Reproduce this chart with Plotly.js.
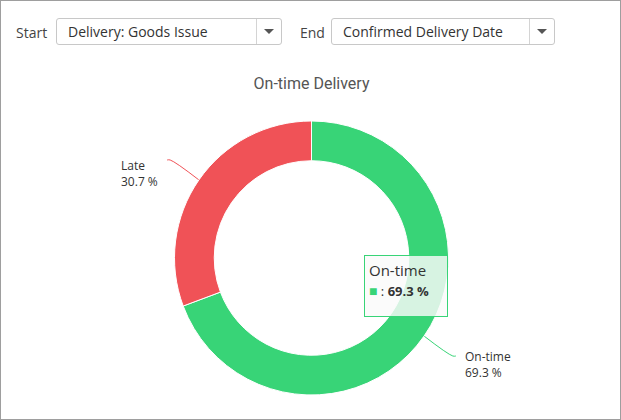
<!DOCTYPE html>
<html>
<head>
<meta charset="utf-8">
<script src="https://cdn.plot.ly/plotly-3.0.1.min.js"></script>
<style>
  html, body { margin: 0; padding: 0; background: #fff; }
  #wrap { position: relative; width: 621px; height: 420px; box-sizing: border-box; border: 1px solid #9e9e9e; overflow: hidden; font-family: "Open Sans", sans-serif; }
  #chart { position: absolute; left: 0; top: 0; width: 621px; height: 420px; }
  .lbl { position: absolute; top: 22px; font-size: 14px; color: #444; line-height: 20px; z-index: 2; }
  .sel { position: absolute; top: 17px; height: 27px; box-sizing: border-box; border: 1px solid #c8c8c8; border-radius: 3px; background: #fff; font-size: 14px; color: #333; line-height: 25px; padding-left: 11px; z-index: 2; }
  .sel .arr { position: absolute; right: 0; top: 0; width: 24px; height: 25px; border-left: 1px solid #d4d4d4; }
  .sel .arr:after { content: ""; position: absolute; left: 7px; top: 10px; border-left: 5px solid transparent; border-right: 5px solid transparent; border-top: 5px solid #555; }
</style>
</head>
<body>
<div id="wrap">
  <div id="chart"></div>
  <div class="lbl" style="left:15px;">Start</div>
  <div class="sel" style="left:55px; width:226px;">Delivery: Goods Issue<div class="arr"></div></div>
  <div class="lbl" style="left:299px;">End</div>
  <div class="sel" style="left:330px; width:224px;">Confirmed Delivery Date<div class="arr"></div></div>
</div>
<script>
// Data
const categories = ["On-time", "Late"];
const shares = [69.3, 30.7];
const colors = ["#38D477", "#F05257"];
const chartTitle = "On-time Delivery";

// Geometry (pixels in the 621x420 page)
const W = 621, H = 420;
const cx = 310.5, cy = 257, R = 137, holeFrac = 0.71;
const leadLen = 35;

const total = shares.reduce((a, b) => a + b, 0);

// leader lines from slice mid-angles (clockwise from 12 o'clock)
const lineTraces = [];
const annotations = [];
let cum = 0;
shares.forEach((v, i) => {
  const mid = (cum + v / 2) / total * 2 * Math.PI;
  cum += v;
  const dx = Math.sin(mid), dy = -Math.cos(mid);
  const x0 = cx + R * dx, y0 = cy + R * dy;
  const x1 = cx + (R + leadLen) * dx, y1 = cy + (R + leadLen) * dy;
  const side = dx >= 0 ? 1 : -1;
  const x2 = x1 + side * 3;
  lineTraces.push({
    type: "scatter", mode: "lines", xaxis: "x", yaxis: "y",
    x: [x0, x1, x2], y: [y0, y1, y1],
    line: { color: colors[i], width: 1, shape: "spline" },
    hoverinfo: "skip", showlegend: false
  });
  annotations.push({
    xref: "x", yref: "y", x: x2 + side * 7, y: y1 - (side > 0 ? 10 : 5),
    xanchor: side > 0 ? "left" : "right", yanchor: "top",
    align: "left", showarrow: false,
    text: categories[i] + "<br>" + shares[i].toFixed(1) + " %",
    font: { family: "Open Sans, sans-serif", size: 12, color: "#333" }
  });
});

// tooltip-like box for the first category
annotations.push({
  xref: "x", yref: "y", x: 363, y: 254, xanchor: "left", yanchor: "top",
  align: "left", showarrow: false, valign: "top",
  text: "<span style='font-size:15px;color:#333'>" + categories[0] + "</span><br>" +
        "<span style='color:" + colors[0] + ";font-size:14px'>■</span>" +
        "<span style='font-size:13px;color:#333'> : <b>" + shares[0].toFixed(1) + " %</b></span>",
  bgcolor: "rgba(250,250,250,0.82)", bordercolor: colors[0], borderwidth: 1, borderpad: 4,
  width: 74, height: 52,
  font: { family: "Open Sans, sans-serif", size: 15, color: "#333" }
});

const pie = {
  type: "pie",
  labels: categories, values: shares,
  marker: { colors: colors, line: { color: "#fff", width: 1 } },
  hole: holeFrac, sort: false, direction: "clockwise", rotation: 0,
  textinfo: "none", hoverinfo: "none",
  domain: { x: [(cx - R) / W, (cx + R) / W], y: [(H - cy - R) / H, (H - cy + R) / H] }
};

const layout = {
  width: W, height: H,
  margin: { l: 0, r: 0, t: 0, b: 0 },
  paper_bgcolor: "rgba(0,0,0,0)", plot_bgcolor: "rgba(0,0,0,0)",
  showlegend: false,
  title: { text: chartTitle, x: 0.5, xanchor: "center", y: 1 - 82 / H, yanchor: "middle",
           font: { family: "Roboto, sans-serif", size: 16, color: "#555" } },
  xaxis: { range: [0, W], domain: [0, 1], visible: false, fixedrange: true },
  yaxis: { range: [H, 0], domain: [0, 1], visible: false, fixedrange: true },
  annotations: annotations
};

Plotly.newPlot("chart", [pie].concat(lineTraces), layout, { staticPlot: true, displayModeBar: false });
</script>
</body>
</html>
